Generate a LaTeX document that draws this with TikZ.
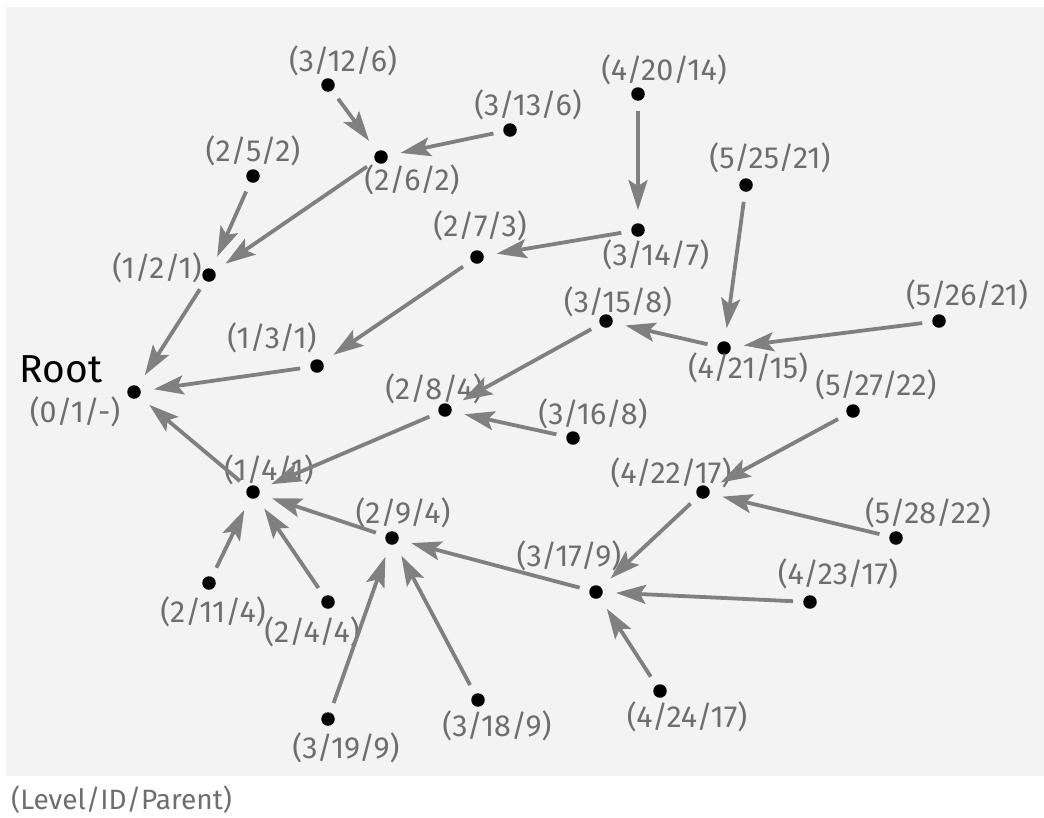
\documentclass[tikz,border=0pt]{standalone}
\usepackage{fontspec}
\setmainfont{Fira Sans}
\usetikzlibrary{arrows.meta}
\definecolor{bgc}{HTML}{F3F3F3}
\definecolor{edgec}{HTML}{808080}
\definecolor{labc}{HTML}{6E6E6E}
\tikzset{
  dotnode/.style={circle, fill=black, inner sep=0pt, minimum size=13.5pt},
  lab/.style={text=labc, font=\fontsize{30.5}{32}\selectfont, inner sep=0pt, anchor=center},
  conn/.style={draw=edgec, line width=3.8pt, shorten <=10pt, shorten >=13pt,
    -{Stealth[length=30pt, width=19pt, inset=6pt]}},
}
\begin{document}
\begin{tikzpicture}[x=1pt, y=-1pt]
\useasboundingbox (0,0) rectangle (1044,817);
\fill[bgc] (6,7) rectangle (1044,776);
% dots
\node[dotnode] (n1)  at (134,392) {};
\node[dotnode] (n2)  at (209,275) {};
\node[dotnode] (n3)  at (317,366) {};
\node[dotnode] (n4)  at (253,492) {};
\node[dotnode] (n5)  at (253,176) {};
\node[dotnode] (n6)  at (381,157) {};
\node[dotnode] (n7)  at (477,257) {};
\node[dotnode] (n8)  at (445,410) {};
\node[dotnode] (n9)  at (392,538) {};
\node[dotnode] (n11) at (209,583) {};
\node[dotnode] (n4b) at (328,602) {};
\node[dotnode] (n12) at (328,85) {};
\node[dotnode] (n13) at (510,130) {};
\node[dotnode] (n14) at (638,230) {};
\node[dotnode] (n15) at (606,321) {};
\node[dotnode] (n16) at (573,438) {};
\node[dotnode] (n17) at (596,592) {};
\node[dotnode] (n18) at (478,700) {};
\node[dotnode] (n19) at (328,719) {};
\node[dotnode] (n20) at (638,94) {};
\node[dotnode] (n21) at (724,348) {};
\node[dotnode] (n22) at (703,492) {};
\node[dotnode] (n23) at (810,602) {};
\node[dotnode] (n24) at (660,691) {};
\node[dotnode] (n25) at (746,185) {};
\node[dotnode] (n26) at (939,321) {};
\node[dotnode] (n27) at (853,411) {};
\node[dotnode] (n28) at (896,538) {};
% labels
\node[anchor=center, inner sep=0pt, font=\fontsize{39}{41}\selectfont] (lroot) at (61,369) {Root};
\node[lab] (l1)  at (75,412) {(0/1/-)};
\node[lab] (l2)  at (157,268) {(1/2/1)};
\node[lab] (l3)  at (272,338) {(1/3/1)};
\node[lab] (l4)  at (269,470) {(1/4/1)};
\node[lab] (l5)  at (253,151) {(2/5/2)};
\node[lab] (l6)  at (412,180) {(2/6/2)};
\node[lab] (l7)  at (480,226) {(2/7/3)};
\node[lab] (l8)  at (434,389) {(2/8/4)};
\node[lab] (l9)  at (403,513) {(2/9/4)};
\node[lab] (l11) at (213,612) {(2/11/4)};
\node[lab] (l4b) at (312,632) {(2/4/4)};
\node[lab] (l12) at (343,61) {(3/12/6)};
\node[lab] (l13) at (528,105) {(3/13/6)};
\node[lab] (l14) at (656,255) {(3/14/7)};
\node[lab] (l15) at (618,302) {(3/15/8)};
\node[lab] (l16) at (593,414) {(3/16/8)};
\node[lab] (l17) at (569,556) {(3/17/9)};
\node[lab] (l18) at (497,726) {(3/18/9)};
\node[lab] (l19) at (346,748) {(3/19/9)};
\node[lab] (l20) at (664,70) {(4/20/14)};
\node[lab] (l21) at (748,368) {(4/21/15)};
\node[lab] (l22) at (671,473) {(4/22/17)};
\node[lab] (l23) at (838,574) {(4/23/17)};
\node[lab] (l24) at (687,717) {(4/24/17)};
\node[lab] (l25) at (770,158) {(5/25/21)};
\node[lab] (l26) at (967,295) {(5/26/21)};
\node[lab] (l27) at (876,385) {(5/27/22)};
\node[lab] (l28) at (928,513) {(5/28/22)};
\node[lab, anchor=west, font=\fontsize{28}{30}\selectfont] (cap) at (11,800) {(Level/ID/Parent)};
% connectors
\draw[conn] (n5) -- (n2);
\draw[conn] (n6) -- (n2);
\draw[conn] (n12) -- (n6);
\draw[conn] (n13) -- (n6);
\draw[conn] (n2) -- (n1);
\draw[conn] (n3) -- (n1);
\draw[conn] (n4) -- (n1);
\draw[conn] (n7) -- (n3);
\draw[conn] (n14) -- (n7);
\draw[conn] (n20) -- (n14);
\draw[conn] (n8) -- (n4);
\draw[conn] (n15) -- (n8);
\draw[conn] (n16) -- (n8);
\draw[conn] (n21) -- (n15);
\draw[conn] (n25) -- (n21);
\draw[conn] (n26) -- (n21);
\draw[conn] (n9) -- (n4);
\draw[conn] (n11) -- (n4);
\draw[conn] (n4b) -- (n4);
\draw[conn] (n17) -- (n9);
\draw[conn] (n18) -- (n9);
\draw[conn] (n19) -- (n9);
\draw[conn] (n22) -- (n17);
\draw[conn] (n23) -- (n17);
\draw[conn] (n24) -- (n17);
\draw[conn] (n27) -- (n22);
\draw[conn] (n28) -- (n22);
\end{tikzpicture}
\end{document}
